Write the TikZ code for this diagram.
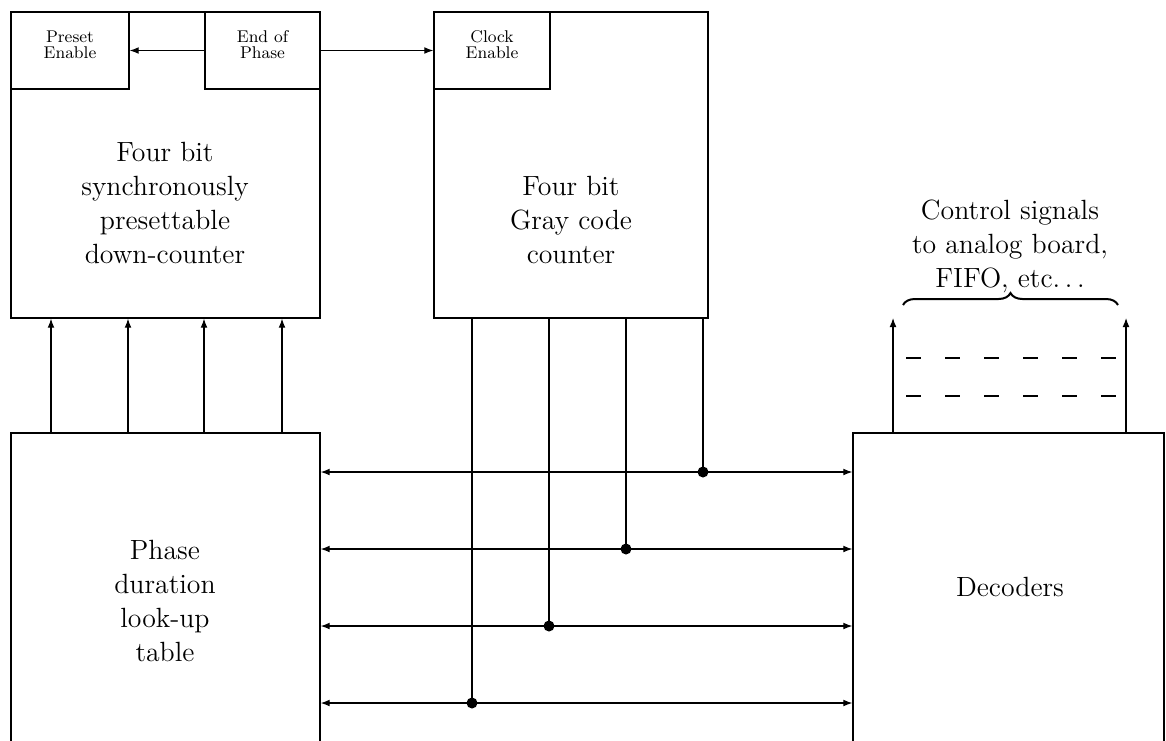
\documentclass[tikz,border=0pt]{standalone}
\usepackage{fix-cm}
\usetikzlibrary{arrows.meta,fit,decorations.pathreplacing}
\begin{document}
\begin{tikzpicture}[x=0.5pt,y=-0.5pt,
  box/.style={draw, line width=0.7pt, inner sep=0pt},
  lbl/.style={align=center, font=\fontsize{13.9}{17}\selectfont},
  small/.style={align=center, font=\fontsize{8.5}{8.4}\selectfont},
  conn/.style={line width=0.55pt},
  tip/.style={-{Latex[length=4.5pt,width=3.4pt]}},
  bidir/.style={{Latex[length=4.5pt,width=3.4pt]}-{Latex[length=4.5pt,width=3.4pt]}},
  dot/.style={circle, fill, inner sep=0pt, minimum size=5.5pt}]
\useasboundingbox (0,0) rectangle (1166,740);

% upper boxes
\node[box, fit={(11,12)(320,318)}] (dc) {};
\node[box, small, fit={(11,12)(129,89)}] (pe) {Preset\\Enable};
\node[box, small, fit={(205,12)(320,89)}] (eop) {End of\\Phase};
\node[lbl] (dct) at (165,203) {Four bit\\synchronously\\presettable\\down-counter};

\node[box, fit={(434,12)(708,318)}] (gc) {};
\node[box, small, fit={(434,12)(550,89)}] (ce) {Clock\\Enable};
\node[lbl] (gct) at (571,220) {Four bit\\Gray code\\counter};

% lower boxes
\node[box, fit={(11,433)(320,748)}] (pl) {};
\node[lbl] (plt) at (165,601) {Phase\\duration\\look-up\\table};
\node[box, fit={(853,433)(1164,748)}] (dec) {};
\node[lbl] (dect) at (1010,587) {Decoders};

% End of Phase arrows
\draw[conn,tip] (eop.west) -- (pe.east);
\draw[conn,tip] (eop.east) -- (ce.west);

% lookup -> down-counter
\foreach \xx in {51,128,204,282}
  \draw[conn,tip] (\xx,0 |- pl.north) -- (\xx,0 |- dc.south);

% bus lines
\foreach \yy in {472,549,626,703}
  \draw[conn,bidir] (pl.east |- 0,\yy) -- (dec.west |- 0,\yy);

\node[dot] (d1) at (703,472) {};
\node[dot] (d2) at (626,549) {};
\node[dot] (d3) at (549,626) {};
\node[dot] (d4) at (472,703) {};
\draw[conn] (703,0 |- gc.south) -- (d1.center);
\draw[conn] (626,0 |- gc.south) -- (d2.center);
\draw[conn] (549,0 |- gc.south) -- (d3.center);
\draw[conn] (472,0 |- gc.south) -- (d4.center);

% decoder outputs
\coordinate (o1) at (893,318);
\coordinate (o2) at (1126,318);
\draw[conn,tip] (893,0 |- dec.north) -- (o1);
\draw[conn,tip] (1126,0 |- dec.north) -- (o2);
\coordinate (da1) at (906,358);
\coordinate (db1) at (1117,358);
\coordinate (da2) at (906,396);
\coordinate (db2) at (1117,396);
\draw[conn, dash pattern=on 7.5pt off 12pt] (da1) -- (db1);
\draw[conn, dash pattern=on 7.5pt off 12pt] (da2) -- (db2);

% brace and label
\coordinate (b1) at (903,305);
\coordinate (b2) at (1118,305);
\draw[line width=1pt, decorate, decoration={brace, amplitude=6pt}] (b1) -- (b2);
\node[lbl] (cst) at (1010,246) {Control signals\\to analog board,\\FIFO, etc.\,.\,.};
\end{tikzpicture}
\end{document}
